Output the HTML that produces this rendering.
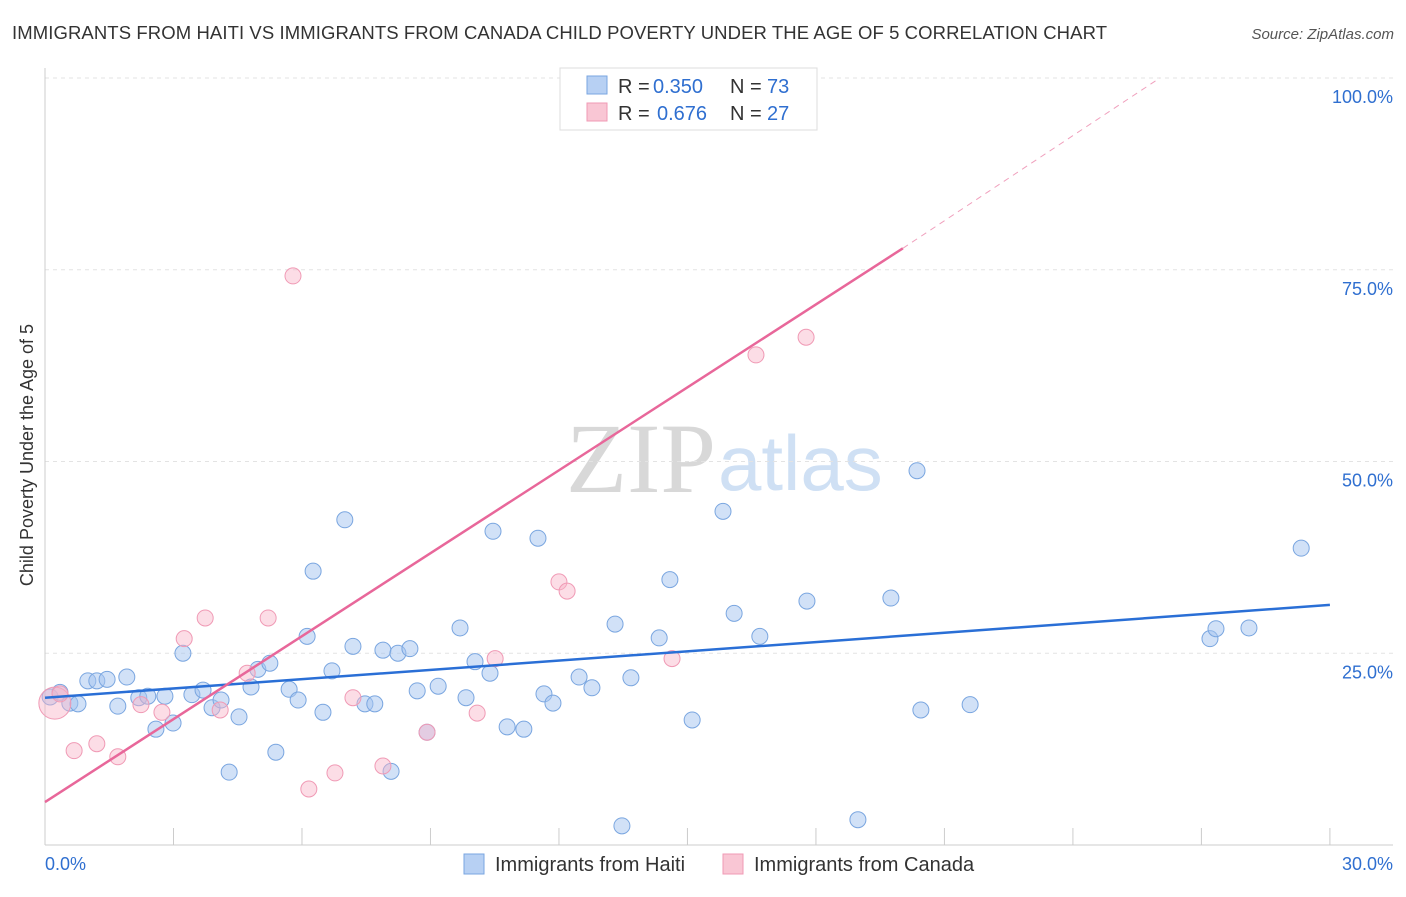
<!DOCTYPE html>
<html><head><meta charset="utf-8"><style>
body{margin:0;background:#fff;font-family:"Liberation Sans",sans-serif;}
svg text{font-family:"Liberation Sans",sans-serif;}
</style></head><body>
<svg id="c" width="1406" height="892">
<text x="12" y="39" font-size="18.5" fill="#333" textLength="1095">IMMIGRANTS FROM HAITI VS IMMIGRANTS FROM CANADA CHILD POVERTY UNDER THE AGE OF 5 CORRELATION CHART</text>
<text x="1394" y="39" font-size="15" fill="#555" font-style="italic" text-anchor="end">Source: ZipAtlas.com</text>
<text x="716" y="492" font-size="100" fill="#d8d8d8" text-anchor="end" font-family="Liberation Serif" style="font-family:'Liberation Serif',serif">ZIP</text>
<text x="718" y="490" font-size="78" fill="#cfe0f4">atlas</text>
<text transform="translate(33,455) rotate(-90)" font-size="18" fill="#333" text-anchor="middle">Child Poverty Under the Age of 5</text>
<g id="grid"></g><g id="marks"></g>
<g>
<rect x="560" y="68" width="257" height="62" fill="#fff" stroke="#ddd"/>
<rect x="587" y="76" width="20" height="18" fill="#b7d0f3" stroke="#7aa6e0"/>
<rect x="587" y="103" width="20" height="18" fill="#f9c6d4" stroke="#f09ab5"/>
<text x="618" y="93" font-size="20" fill="#333">R =</text>
<text x="653" y="93" font-size="20" fill="#2f6fd0">0.350</text>
<text x="730" y="93" font-size="20" fill="#333">N =</text>
<text x="767" y="93" font-size="20" fill="#2f6fd0">73</text>
<text x="618" y="120" font-size="20" fill="#333">R =</text>
<text x="657" y="120" font-size="20" fill="#2f6fd0">0.676</text>
<text x="730" y="120" font-size="20" fill="#333">N =</text>
<text x="767" y="120" font-size="20" fill="#2f6fd0">27</text>
</g>
<g>
<rect x="464" y="854" width="20" height="20" fill="#b7d0f3" stroke="#7aa6e0"/>
<text x="495" y="871" font-size="20" fill="#333">Immigrants from Haiti</text>
<rect x="723" y="854" width="20" height="20" fill="#f9c6d4" stroke="#f09ab5"/>
<text x="754" y="871" font-size="20" fill="#333">Immigrants from Canada</text>
</g>
</svg>
<script>
const haitiX=[0.12,0.35,0.58,0.77,1.0,1.21,1.45,1.7,1.91,2.19,2.4,2.59,2.8,2.99,3.22,3.43,3.69,3.9,4.11,4.3,4.53,4.81,4.97,5.25,5.39,5.7,5.91,6.12,6.26,6.49,6.7,7.0,7.19,7.47,7.7,7.89,8.08,8.24,8.52,8.69,8.92,9.18,9.69,9.83,10.04,10.39,10.46,10.79,11.18,11.51,11.65,11.86,12.47,12.77,13.31,13.47,13.68,14.34,14.59,15.11,15.83,16.09,16.69,17.79,18.98,19.75,20.36,20.45,21.6,27.2,27.34,28.11,29.33];
const haitiY=[19.3,19.9,18.5,18.4,21.4,21.4,21.6,18.1,21.9,19.2,19.4,15.1,19.4,15.9,25.0,19.6,20.2,17.9,18.9,9.5,16.7,20.6,22.9,23.7,12.1,20.3,18.9,27.2,35.7,17.3,22.7,42.4,25.9,18.4,18.4,25.4,9.6,25.0,25.6,20.1,14.7,20.7,28.3,19.2,23.9,22.4,40.9,15.4,15.1,40.0,19.7,18.5,21.9,20.5,28.8,2.5,21.8,27.0,34.6,16.3,43.5,30.2,27.2,31.8,3.3,32.2,48.8,17.6,18.3,26.9,28.2,28.3,38.7];
const canadaX=[0.23,0.35,0.68,1.21,1.7,2.24,2.73,3.25,3.74,4.09,4.72,5.21,5.79,6.16,6.77,7.19,7.89,8.92,10.09,10.51,12.0,12.19,13.33,14.64,16.32,16.6,17.77];
const canadaY=[18.5,19.7,12.3,13.2,11.5,18.3,17.3,26.9,29.6,17.6,22.4,29.6,74.2,7.3,9.4,19.2,10.3,14.7,17.2,24.3,34.3,33.1,99.7,24.3,99.7,63.9,66.2];
const haitiLine=[0,19.2,30,31.3];
const canadaLine=[0,5.6,20.03,77.8,26.03,100];
const yTicks=[25,50,75,100];
const xTickLabels=["0.0%","30.0%"];
const NS="http://www.w3.org/2000/svg";
const X=v=>45+v*42.83, Y=v=>845-v*7.67;
function mk(t,a,p){const e=document.createElementNS(NS,t);for(const k in a)e.setAttribute(k,a[k]);p.appendChild(e);return e;}
const g=document.getElementById('grid'),m=document.getElementById('marks');
yTicks.forEach(t=>{const l=mk('line',{x1:45,x2:1393,y1:Y(t),y2:Y(t),stroke:'#e3e3e3','stroke-dasharray':'4,4'},g);


const tx=mk('text',{x:1393,y:Y(t)+25,'font-size':18,fill:'#2f6fd0','text-anchor':'end'},g);tx.textContent=t.toFixed(1)+'%';

});
const ax=mk('line',{x1:45,x2:1393,y1:845,y2:845,stroke:'#ccc'},g);


const ay=mk('line',{x1:45,x2:45,y1:68,y2:845,stroke:'#ccc'},g);


for(let i=0;i<=10;i++){const t=mk('line',{x1:X(i*3),x2:X(i*3),y1:828,y2:845,stroke:'#ccc'},g);

}
[[0,'start'],[30,'end']].forEach((d,i)=>{const t=mk('text',{x:i?1393:45,y:870,'font-size':18,fill:'#2f6fd0','text-anchor':d[1]},g);t.textContent=xTickLabels[i];

});
function pts(xs,ys,f,s,n){xs.forEach((x,i)=>{const c=mk('circle',{cx:X(x),cy:Y(ys[i]),r:(n=='canada'&&i==0)?16:8,fill:f,stroke:s,'stroke-width':1},m);

});}
pts(haitiX,haitiY,'rgba(164,196,240,0.5)','#7aa6e0','haiti');
pts(canadaX,canadaY,'rgba(248,180,200,0.45)','#f09ab5','canada');
const bl=mk('line',{x1:X(haitiLine[0]),y1:Y(haitiLine[1]),x2:X(haitiLine[2]),y2:Y(haitiLine[3]),stroke:'#2a6fd6','stroke-width':2.5},m);


const pl=mk('line',{x1:X(canadaLine[0]),y1:Y(canadaLine[1]),x2:X(canadaLine[2]),y2:Y(canadaLine[3]),stroke:'#e8679a','stroke-width':2.5},m);


const pd=mk('line',{x1:X(canadaLine[2]),y1:Y(canadaLine[3]),x2:X(canadaLine[4]),y2:Y(canadaLine[5]),stroke:'#f0a0bd','stroke-width':1,'stroke-dasharray':'6,5'},m);


</script>
</body></html>
